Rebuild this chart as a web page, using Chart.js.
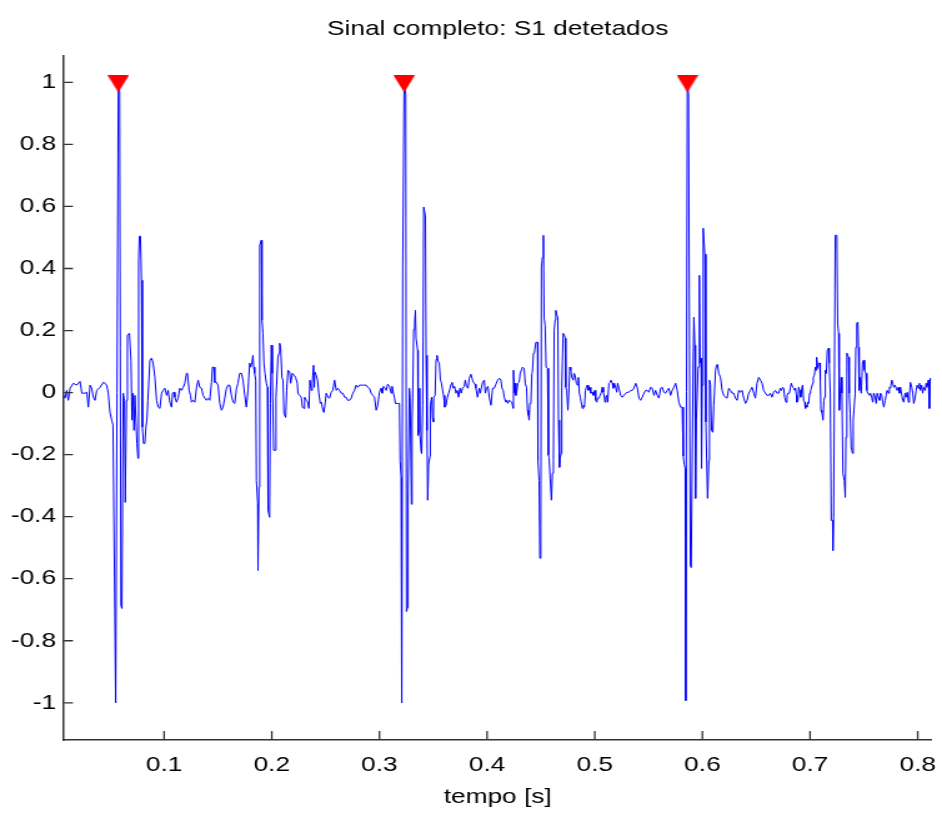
<!DOCTYPE html>
<html>
<head>
<meta charset="utf-8">
<script src="https://cdn.jsdelivr.net/npm/chart.js@4/dist/chart.umd.min.js"></script>
<style>
html,body{margin:0;padding:0;background:#ffffff;}
#c{display:block;}
</style>
</head>
<body>
<canvas id="c" width="754" height="813" style="width:942px;height:813px;display:block;"></canvas>
<script>
// ---------- data ----------
const titleText = 'Sinal completo: S1 detetados';
const xAxisLabel = 'tempo [s]';
const xTicks = [0.1, 0.2, 0.3, 0.4, 0.5, 0.6, 0.7, 0.8];
const xTickLabels = ['0.1', '0.2', '0.3', '0.4', '0.5', '0.6', '0.7', '0.8'];
const yTicks = [-1, -0.8, -0.6, -0.4, -0.2, 0, 0.2, 0.4, 0.6, 0.8, 1];
const yTickLabels = ['-1', '-0.8', '-0.6', '-0.4', '-0.2', '0', '0.2', '0.4', '0.6', '0.8', '1'];
const xRange = [0.0070, 0.8127];
const yRange = [-1.12, 1.085];
// detected S1 peaks (time in ms, amplitude)
const peakTimesMs = [57.4, 322.9, 586.0];
const peakValues = [0.995, 0.995, 0.995];
// signal samples: [time in ms, amplitude]
const signal = [
[7.0,-0.009],[8.0,-0.018],[9.5,0.007],[11.0,-0.025],[12.6,0.014],[15.7,0.030],[18.8,0.024],[21.9,0.036],[23.5,-0.002],[26.5,-0.002],[28.1,0.001],[29.6,-0.047],[31.2,0.024],[32.7,0.014],[34.2,-0.015],[35.8,-0.025],[37.4,0.007],[40.4,0.017],[43.5,0.033],[45.1,0.030],[46.6,0.024],[48.1,-0.002],[49.7,-0.064],[51.3,-0.089],[52.5,-0.105],
[55.0,-1.0],[57.4,1.0],[58.7,0.969],[59.9,-0.686],[60.8,-0.696],[62.0,-0.002],[63.1,-0.025],[63.9,-0.354],[65.0,-0.025],[65.9,0.185],[67.8,0.191],[69.2,0.104],[70.1,-0.089],[71.0,-0.002],[72.0,-0.122],[72.9,-0.009],[74.7,-0.164],[75.7,-0.212],[76.3,0.427],[77.0,0.504],[78.0,0.504],[78.9,0.362],[79.8,-0.111],[80.8,-0.164],[82.1,-0.164],[83.1,-0.111],[84.0,-0.089],[84.9,-0.025],[86.8,0.104],[88.4,0.111],[89.8,0.095],[91.4,0.049],[93.0,-0.025],[94.5,-0.047],[96.1,-0.051],[97.6,-0.002],[99.1,0.007],[100.7,0.014],[102.3,-0.009],[103.7,0.007],[105.3,-0.031],[106.9,-0.047],[107.8,-0.002],[109.0,0.001],[110.0,-0.015],[111.5,-0.031],[113.0,-0.018],[114.6,0.014],[116.2,0.007],[117.7,0.017],[119.2,0.030],[120.8,0.062],[121.7,0.062],[123.2,0.007],[124.5,-0.009],[125.4,-0.031],[126.9,-0.025],[128.5,-0.031],[130.1,0.017],[131.6,0.040],[133.1,0.017],[134.7,0.014],[136.2,-0.009],[137.8,-0.018],[139.3,-0.025],[140.8,-0.018],[142.4,-0.025],[144.0,0.033],[144.9,0.082],[146.1,0.082],[147.0,0.033],[148.6,0.033],[150.1,0.024],[151.7,-0.035],[153.3,-0.057],[154.7,-0.047],[156.3,-0.018],[157.9,0.014],[159.4,0.024],[160.9,0.024],[162.5,-0.009],[164.0,-0.031],[165.6,-0.035],[167.2,0.014],[168.6,0.030],[170.2,0.062],[171.8,0.062],[173.3,0.040],[174.9,-0.009],[176.4,-0.047],[177.9,0.007],
[179.5,0.095],[180.4,0.082],[181.6,0.098],[182.5,0.120],[183.2,0.082],[184.1,0.062],[185.1,0.040],[185.7,-0.283],[186.9,-0.357],[187.2,-0.573],[188.1,-0.305],[188.8,0.475],[190.3,0.491],[190.9,0.234],[191.8,0.191],[192.7,0.095],[193.7,0.062],[195.0,0.030],[195.9,0.017],[196.5,-0.380],[198.0,-0.402],[198.7,-0.035],[199.6,0.153],[200.5,0.062],[201.7,-0.186],[203.3,-0.186],[203.9,-0.015],[205.7,0.114],[206.7,0.127],[207.3,0.159],[208.2,0.146],[209.4,0.049],[210.4,0.040],[211.3,-0.067],[212.9,-0.080],[213.8,0.007],[215.0,0.072],[216.6,0.066],[217.5,0.030],[219.1,0.062],[220.6,0.056],[222.1,0.049],[223.7,0.030],[224.3,-0.002],[225.8,-0.009],[227.4,-0.015],[228.4,-0.047],[229.6,-0.051],[230.5,-0.015],[232.1,-0.025],[233.5,-0.031],[234.5,-0.051],[235.4,0.040],[236.7,0.007],[237.6,0.030],[238.8,0.088],[239.5,0.017],[240.0,0.066],[241.3,0.056],[242.5,0.040],[243.7,-0.002],[245.0,-0.035],[246.0,-0.031],[247.5,-0.057],[248.4,-0.064],[249.7,-0.031],[250.6,-0.002],[252.1,-0.015],[253.7,-0.018],[255.2,0.001],[256.7,0.007],[258.3,0.040],[259.9,0.007],[261.4,0.014],[262.9,0.007],[264.5,-0.002],[266.0,-0.002],[267.6,-0.015],[269.1,-0.015],[270.6,-0.025],[272.2,-0.025],[273.8,-0.018],[275.3,-0.002],[276.8,0.007],[278.4,0.024],[279.9,0.017],[281.5,0.024],[284.5,0.024],[287.7,0.024],[289.2,0.017],[290.7,0.014],[292.3,-0.002],[293.8,-0.009],[295.4,-0.015],[297.0,-0.057],[298.4,-0.041],[300.0,0.001],[301.6,0.014],[302.5,-0.002],[303.7,0.020],[305.3,0.014],[306.2,0.007],[307.7,0.027],[309.3,0.020],[310.9,-0.002],[311.8,0.020],[313.0,-0.002],[313.9,-0.015],[314.8,-0.035],[317.6,-0.035],[318.6,-0.035],
[319.2,-0.219],[320.1,-0.273],[320.7,-1.0],[321.6,0.395],[322.9,1.0],[324.4,0.962],[325.1,-0.706],[326.0,-0.693],[326.6,-0.315],[327.8,0.014],[328.5,-0.015],[329.7,-0.360],[330.3,-0.095],[330.9,-0.015],[331.8,0.204],[332.7,0.224],[333.4,0.265],[334.0,0.175],[335.5,0.136],[335.9,-0.138],[336.8,-0.122],[337.4,0.014],[337.7,-0.138],[338.7,-0.189],[339.2,-0.196],[340.2,-0.041],[341.1,0.598],[342.7,0.569],[343.3,0.120],[344.2,-0.122],[344.8,-0.347],[345.7,-0.231],[347.0,-0.205],[347.3,-0.041],[348.5,-0.015],[349.4,-0.083],[350.1,-0.095],[350.4,-0.015],[351.7,-0.009],[352.6,0.107],[353.5,0.120],[354.4,0.101],[355.6,0.095],[356.6,0.040],[357.5,0.033],[358.7,0.007],[359.6,-0.009],[360.6,-0.047],[361.9,-0.041],[363.1,-0.015],[364.3,-0.002],[365.6,0.014],[366.5,0.027],[367.4,0.033],[368.6,0.014],[369.8,0.020],[371.1,-0.002],[372.3,0.007],[373.5,-0.015],[374.8,0.014],[376.0,-0.002],[377.2,0.014],[378.8,0.020],[379.7,0.040],[380.9,0.020],[382.3,0.014],[383.4,0.046],[385.0,0.059],[386.5,0.040],[387.4,0.033],[388.7,0.027],[389.6,0.014],[391.1,-0.015],[392.7,0.014],[393.6,-0.002],[394.6,0.014],[395.8,0.033],[397.4,0.040],[398.3,-0.002],[399.5,0.014],[400.8,0.020],[402.0,-0.015],[403.6,-0.041],[405.1,0.014],[406.6,0.014],[408.2,0.027],[409.7,0.040],[411.3,0.046],[412.8,0.040],[413.8,0.014],[415.0,0.007],[415.9,-0.015],[417.5,-0.031],[418.4,-0.025],[419.3,-0.035],[420.5,-0.025],[423.0,-0.031],[424.2,-0.051],[424.5,0.072],[425.5,-0.002],[426.1,0.030],[426.7,-0.009],[427.7,0.007],[428.6,0.030],[429.8,0.033],[430.7,0.062],[432.9,0.082],[434.4,0.078],[435.4,0.030],[436.6,0.017],[437.5,-0.057],[438.4,-0.073],[439.1,-0.089],[439.7,-0.035],[440.7,-0.031],[441.6,0.062],[442.1,0.066],[443.1,0.127],[444.0,0.130],[445.3,0.162],[446.8,0.162],
[447.2,-0.219],[448.3,-0.283],[449.0,-0.534],[449.9,-0.435],[450.5,0.404],[451.4,0.436],[452.3,0.507],[453.0,0.240],[453.9,0.217],[454.8,0.082],[456.1,0.078],[457.0,-0.202],[457.6,-0.209],[458.6,-0.276],[459.8,-0.347],[460.7,-0.260],[461.6,-0.219],[462.3,0.201],[463.2,0.234],[463.8,0.265],[464.8,0.249],[465.7,0.243],[466.3,-0.089],[467.2,-0.241],[467.8,-0.212],[468.8,-0.196],[469.4,0.017],[470.6,0.191],[471.8,0.185],[472.5,0.175],[473.1,0.017],[474.0,0.007],[475.0,-0.057],[475.9,-0.002],[476.8,0.082],[477.7,0.072],[478.7,0.049],[479.9,0.040],[480.8,0.062],[481.7,0.056],[482.9,0.030],[483.9,0.024],[484.8,0.049],[485.7,-0.002],[486.6,-0.015],[487.9,-0.041],[488.5,-0.051],[489.4,-0.041],[490.4,-0.047],[491.3,0.007],[492.2,0.017],[493.1,0.024],[494.1,0.007],[495.4,0.017],[496.3,-0.002],[497.8,0.001],[498.7,-0.009],[500.0,0.007],[500.9,-0.025],[501.9,-0.031],[502.8,-0.018],[504.0,-0.018],[504.9,-0.009],[506.1,0.001],[507.0,0.017],[508.0,0.001],[508.9,-0.015],[509.5,-0.031],[510.2,-0.015],[511.1,-0.009],[512.0,-0.031],[513.2,0.030],[514.2,0.033],[515.1,0.040],[516.3,0.030],[517.2,0.014],[518.2,0.030],[519.4,0.017],[520.4,0.001],[521.3,0.030],[522.5,0.014],[524.1,-0.009],[525.6,-0.015],[527.1,-0.009],[528.7,-0.002],[530.2,0.001],[531.8,0.001],[533.4,0.007],[534.9,0.007],[536.4,0.014],[538.0,0.030],[539.5,0.017],[541.1,-0.018],[542.6,-0.025],[544.1,-0.015],[545.7,-0.002],[547.3,0.007],[548.8,0.007],[550.3,0.001],[551.9,0.017],[553.4,0.014],[555.0,-0.009],[556.5,0.007],[558.0,-0.009],[559.6,-0.018],[561.2,0.014],[562.7,0.017],[564.2,0.001],[565.8,-0.002],[567.3,0.007],[568.9,0.014],[570.4,-0.009],[571.9,0.007],[573.5,0.017],[575.1,0.030],[576.6,0.007],[578.1,-0.031],[579.7,-0.047],[581.2,-0.047],
[582.2,-0.205],[583.1,-0.231],[584.0,-0.244],[584.5,-0.993],[586.0,1.0],[587.1,0.962],[588.8,-0.557],[589.6,-0.564],[591.4,0.104],[592.1,0.243],[593.0,0.153],[593.6,-0.341],[594.4,-0.089],[596.0,0.082],[596.7,0.082],[597.2,0.378],[597.9,0.095],[598.8,0.111],[599.2,-0.244],[599.8,0.024],[600.7,0.530],[602.3,0.446],[603.2,-0.095],[604.8,-0.341],[606.0,-0.219],[606.6,0.040],[607.5,0.027],[608.5,-0.122],[609.7,-0.128],[610.6,-0.041],[612.2,0.072],[613.1,0.088],[614.0,0.091],[615.2,0.062],[616.8,0.049],[618.3,0.007],[619.9,-0.009],[621.4,-0.015],[622.9,-0.018],[624.5,0.014],[626.1,0.007],[627.6,-0.002],[629.1,-0.002],[630.7,-0.018],[632.2,-0.025],[633.8,0.007],[635.3,0.001],[636.8,0.007],[638.4,-0.018],[640.0,-0.035],[641.5,-0.025],[643.0,-0.002],[644.6,0.007],[646.1,0.017],[647.7,-0.002],[649.2,-0.018],[650.7,0.030],[652.3,0.049],[653.9,0.040],[655.4,0.030],[656.9,0.007],[658.5,-0.002],[660.0,-0.009],[661.6,-0.009],[663.1,-0.002],[664.6,-0.015],[666.2,0.001],[667.8,0.007],[669.3,-0.002],[670.8,-0.002],[672.4,0.014],[673.4,0.007],[674.5,0.017],[675.5,0.014],[676.4,-0.015],[677.6,-0.031],[678.6,-0.009],[679.5,-0.002],[680.8,-0.002],[681.7,0.017],[682.6,0.030],[683.8,0.017],[684.8,0.014],[685.7,0.007],[686.4,0.014],[687.3,-0.009],[687.8,-0.031],[688.8,-0.025],[689.4,0.017],[690.3,0.007],[691.3,-0.015],[692.5,0.017],[693.1,0.024],[694.0,-0.025],[695.0,-0.031],[695.6,-0.051],[696.2,-0.041],[697.1,-0.047],[698.0,-0.031],[698.7,-0.035],[699.6,-0.002],[700.5,0.007],[701.2,0.014],[702.4,0.030],[703.0,0.049],[704.0,0.056],[704.9,0.082],[705.5,0.072],[706.1,0.114],[707.0,0.078],[707.9,0.095],[708.9,0.095],[709.5,0.040],[710.1,-0.057],[711.0,-0.064],[712.0,-0.089],[712.9,-0.025],[713.5,-0.015],[714.2,0.072],[715.1,0.062],[716.0,0.136],[717.2,0.143],[717.8,0.095],[718.8,-0.002],
[719.7,-0.412],[720.9,-0.412],[721.2,-0.509],[721.9,-0.402],[723.4,0.507],[724.9,0.507],[725.6,0.224],[726.5,0.191],[727.1,-0.057],[728.1,-0.002],[729.0,0.049],[729.6,-0.002],[730.5,-0.260],[731.8,-0.283],[732.7,-0.338],[733.3,-0.144],[734.2,0.127],[735.7,0.114],[736.4,-0.002],[737.3,-0.067],[738.2,-0.176],[739.4,-0.196],[740.1,-0.089],[741.9,-0.002],[742.5,0.146],[743.4,0.224],[744.4,0.227],[745.0,0.146],[745.6,0.007],[746.6,0.049],[747.5,-0.002],[748.7,0.095],[749.6,0.104],[750.6,0.072],[751.8,0.062],[752.7,0.007],[753.6,-0.002],[755.2,-0.009],[756.1,-0.002],[757.3,-0.015],[758.2,-0.031],[759.2,-0.002],[760.5,-0.015],[761.4,-0.035],[762.3,-0.002],[763.5,-0.015],[764.5,-0.025],[765.4,-0.002],[766.6,-0.009],[767.5,-0.031],[768.5,-0.047],[769.8,-0.025],[770.7,-0.009],[771.6,0.007],[772.8,-0.002],[773.7,0.017],[774.7,0.014],[775.9,0.040],[776.8,0.030],[777.8,0.017],[779.0,0.024],[780.0,0.014],[780.9,0.007],[782.1,0.017],[783.0,-0.002],[784.0,0.017],[785.2,-0.009],[786.1,-0.025],[787.0,-0.031],[788.3,-0.002],[789.2,-0.015],[790.2,0.001],[791.4,-0.031],[792.3,-0.009],[793.2,0.033],[794.5,0.017],[795.4,-0.002],[796.3,-0.035],[797.6,-0.018],[798.5,0.007],[799.5,0.024],[800.6,0.014],[801.6,0.030],[802.5,0.007],[803.7,0.024],[804.6,-0.002],[805.6,0.017],[806.9,0.007],[807.8,0.030],[808.7,0.017],[809.9,0.040],[810.8,-0.051],[811.5,0.046],[812.4,0.040]
];

// ---------- layout / style ----------
const STRETCH = 942 / 754;          // canvas is drawn 754 wide and shown 942 wide
const FONT = "'Liberation Sans', Arial, Helvetica, sans-serif";
const AXIS_COLOR = '#333333';
const PLOT_LEFT = 64 / STRETCH;
const PLOT_RIGHT_PAD = 754 - 933 / STRETCH;

const tri = document.createElement('canvas');
tri.width = 17; tri.height = 17;
(function () {
  const g = tri.getContext('2d');
  g.fillStyle = '#ff0000';
  g.beginPath(); g.moveTo(0, 0); g.lineTo(17, 0); g.lineTo(8.5, 17); g.closePath(); g.fill();
})();

const inwardTicks = {
  id: 'inwardTicks',
  afterDatasetsDraw(chart) {
    const { ctx, chartArea: a, scales } = chart;
    ctx.save();
    ctx.strokeStyle = AXIS_COLOR;
    ctx.lineWidth = 1.3;
    ctx.beginPath();
    xTicks.forEach(v => { const p = scales.x.getPixelForValue(v); ctx.moveTo(p, a.bottom); ctx.lineTo(p, a.bottom - 9); });
    yTicks.forEach(v => { const p = scales.y.getPixelForValue(v); ctx.moveTo(a.left, p); ctx.lineTo(a.left + 9 / STRETCH, p); });
    ctx.stroke();
    ctx.restore();
  }
};

const zeroPad = s => { s.paddingLeft = 0; s.paddingRight = 0; s.paddingTop = 0; s.paddingBottom = 0; };

const canvas = document.getElementById('c');
new Chart(canvas, {
  type: 'line',
  data: {
    datasets: [
      {
        label: 'S1',
        data: peakTimesMs.map((t, i) => ({ x: t / 1000, y: peakValues[i] })),
        showLine: false,
        pointStyle: tri,
        pointRadius: 8.5,
        pointHoverRadius: 8.5,
        borderWidth: 0,
        backgroundColor: '#ff0000'
      },
      {
        label: 'sinal',
        data: signal.map(([t, v]) => ({ x: t / 1000, y: v })),
        borderColor: '#0000ff',
        borderWidth: 1,
        borderJoinStyle: 'round',
        pointRadius: 0,
        pointHoverRadius: 0,
        tension: 0,
        fill: false
      }
    ]
  },
  options: {
    responsive: false,
    animation: false,
    devicePixelRatio: 1,
    events: [],
    layout: { padding: { left: 0, right: PLOT_RIGHT_PAD, top: 0, bottom: 0 } },
    plugins: { legend: { display: false }, tooltip: { enabled: false }, title: { display: false } },
    scales: {
      x: {
        type: 'linear', position: 'bottom', min: xRange[0], max: xRange[1], bounds: 'data',
        afterBuildTicks: s => { s.ticks = xTicks.map(v => ({ value: v })); },
        afterFit: s => { s.height = 73; zeroPad(s); },
        grid: { display: false, drawTicks: false },
        border: { display: true, color: AXIS_COLOR, width: 1.5 },
        ticks: { autoSkip: false, maxRotation: 0, padding: 12.2, color: '#000', font: { family: FONT, size: 21 },
                 callback: (v, i) => xTickLabels[i] },
        title: { display: true, text: xAxisLabel, color: '#000', font: { family: FONT, size: 21 }, padding: { top: 0, bottom: 2.7 } }
      },
      xTop: {
        type: 'linear', position: 'top', min: xRange[0], max: xRange[1], bounds: 'data',
        afterFit: s => { s.height = 56; zeroPad(s); },
        grid: { display: false, drawTicks: false },
        border: { display: false },
        ticks: { display: false },
        title: { display: true, text: titleText, color: '#000', font: { family: FONT, size: 21 }, padding: { top: 17.1, bottom: 0 } }
      },
      y: {
        type: 'linear', position: 'left', min: yRange[0], max: yRange[1], bounds: 'data',
        afterBuildTicks: s => { s.ticks = yTicks.map(v => ({ value: v })); },
        afterFit: s => { s.width = PLOT_LEFT; zeroPad(s); },
        grid: { display: false, drawTicks: false },
        border: { display: true, color: AXIS_COLOR, width: 1.5 },
        ticks: { autoSkip: false, padding: 6.4, color: '#000', font: { family: FONT, size: 21 },
                 callback: (v, i) => yTickLabels[i] }
      }
    }
  },
  plugins: [inwardTicks]
});
canvas.style.width = '942px';
canvas.style.height = '813px';
</script>
</body>
</html>
